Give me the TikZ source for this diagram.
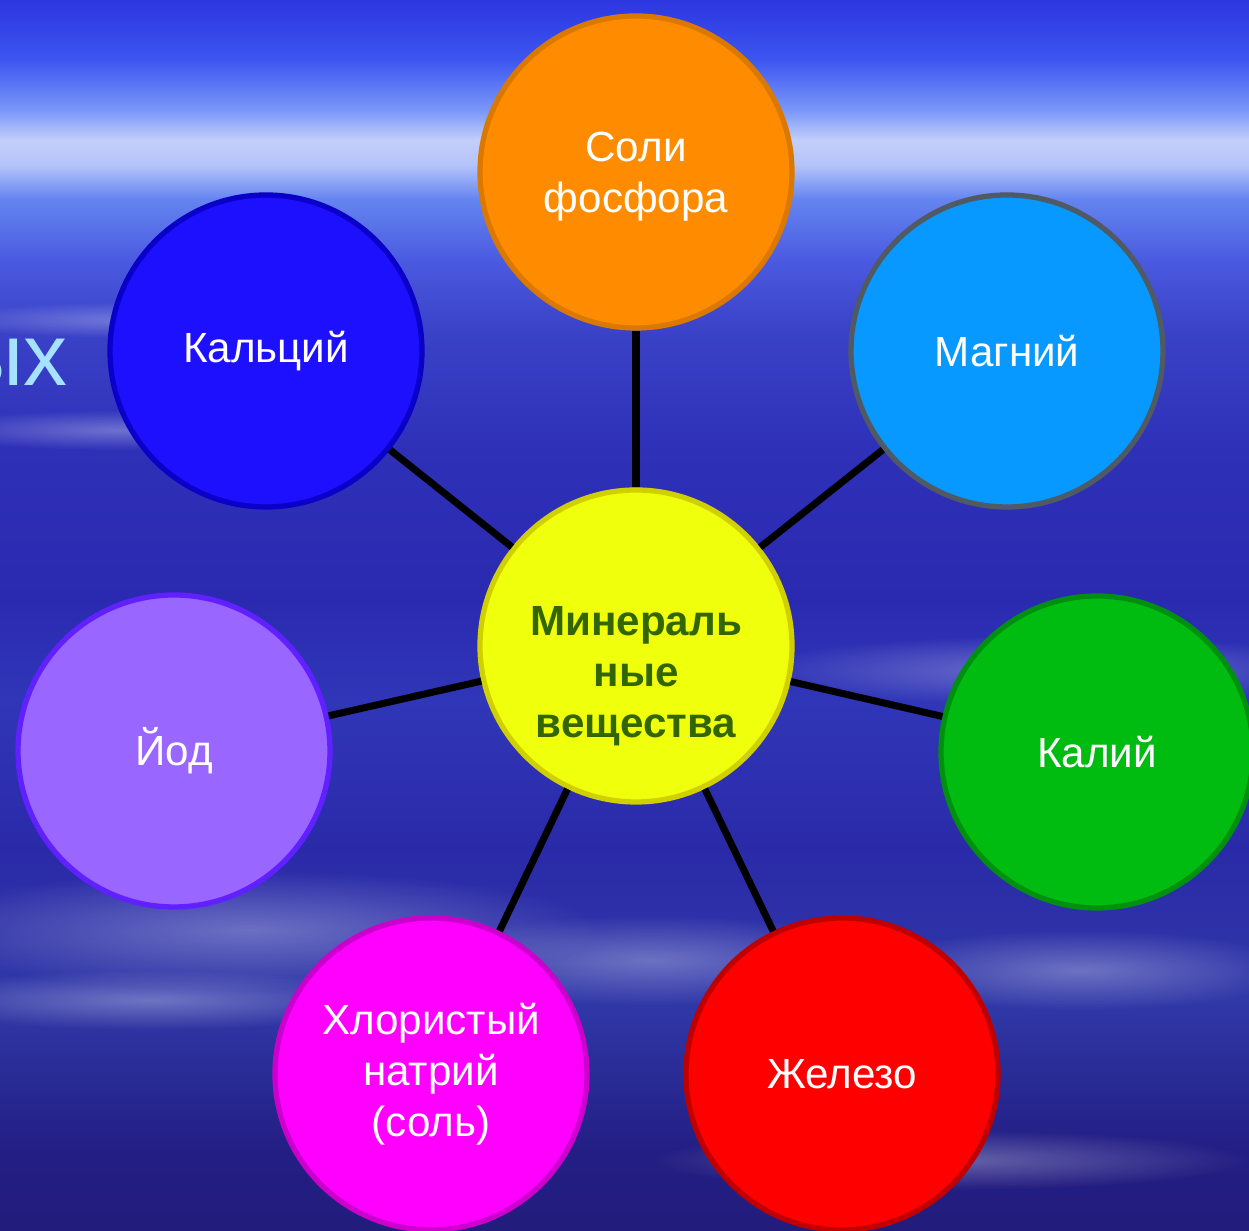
\documentclass[tikz,border=0pt]{standalone}
\usepackage{fontspec}
\setmainfont{Liberation Sans}
\usetikzlibrary{fadings}

\definecolor{titlecyan}{HTML}{A6E2FF}
\definecolor{hubgreen}{HTML}{336600}

% soft edged blob for the clouds
\tikzfading[name=softfade,inner color=transparent!0,outer color=transparent!100]

% sky behind the diagram, light band near the top
\pgfdeclareverticalshading{sky}{100bp}{%
  rgb(0bp)=(0.133,0.110,0.486); rgb(25bp)=(0.133,0.110,0.486);
  rgb(28.3bp)=(0.137,0.118,0.518); rgb(34.4bp)=(0.188,0.22,0.659);
  rgb(40.5bp)=(0.165,0.165,0.659); rgb(46.6bp)=(0.188,0.212,0.722);
  rgb(50.6bp)=(0.165,0.165,0.69); rgb(56.7bp)=(0.18,0.188,0.722);
  rgb(61.6bp)=(0.227,0.259,0.784); rgb(64.4bp)=(0.29,0.353,0.878);
  rgb(66.9bp)=(0.392,0.518,0.941); rgb(68.3bp)=(0.706,0.769,0.98);
  rgb(69.3bp)=(0.769,0.808,0.98); rgb(70.5bp)=(0.478,0.596,0.973);
  rgb(72.6bp)=(0.235,0.333,0.941); rgb(75bp)=(0.176,0.212,0.878);
  rgb(100bp)=(0.176,0.212,0.878)}

\begin{document}
\begin{tikzpicture}[
        ball/.style={circle,minimum size=3.12cm,inner sep=0pt,
            line width=1.5pt,align=center,text=white,
            font=\fontsize{12}{14.5}\selectfont},
        cloud/.style={white,opacity=0.3,path fading=softfade},
        link/.style={line width=2pt,black}]
\useasboundingbox (0,0) rectangle (12.49,-12.31);
\clip (0,0) rectangle (12.49,-12.31);
\shade[shading=sky] (0,0) rectangle (12.49,-12.31);

% streaks of cloud
\fill[cloud] (1.5,-3.2) ellipse (2.2 and 0.18);
\fill[cloud] (1.2,-4.3) ellipse (2.0 and 0.2);
\fill[cloud] (10.5,-6.7) ellipse (3.0 and 0.35);
\fill[cloud] (2.5,-9.3) ellipse (3.5 and 0.6);
\fill[cloud] (1.5,-10.0) ellipse (2.5 and 0.3);
\fill[cloud] (6.5,-9.6) ellipse (2.5 and 0.45);
\fill[cloud] (10.8,-9.7) ellipse (2.2 and 0.4);
\fill[cloud] (9.5,-11.6) ellipse (3.0 and 0.3);

\node[anchor=base east,inner sep=0pt,text=titlecyan,
    font=\fontsize{25}{28}\selectfont] (title) at (0.68,-3.86) {ых};

\node[ball,fill={rgb,255:red,240;green,255;blue,12},
    draw={rgb,255:red,208;green,208;blue,0}] (min) at (6.36,-6.46) {};
\node[align=center,text=hubgreen,font=\fontsize{12}{14.5}\selectfont\bfseries]
    (mintext) at (6.36,-6.76) {Минераль\\ные\\вещества};

\node[ball,fill={rgb,255:red,255;green,140;blue,0},
    draw={rgb,255:red,218;green,120;blue,0}] (phos) at (6.36,-1.72) {};
\node[align=center,text=white,font=\fontsize{12}{14.5}\selectfont]
    (phostext) at (6.36,-1.77) {Соли\\фосфора};
\node[ball,fill={rgb,255:red,28;green,16;blue,255},
    draw={rgb,255:red,10;green,0;blue,200}] (calc) at (2.66,-3.51) {Кальций};
\node[ball,fill={rgb,255:red,7;green,153;blue,255},
    draw={rgb,255:red,80;green,90;blue,100}] (magn) at (10.07,-3.51) {Магний};
\node[ball,fill={rgb,255:red,153;green,102;blue,255},
    draw={rgb,255:red,96;green,32;blue,255}] (iod) at (1.74,-7.51) {Йод};
\node[ball,fill={rgb,255:red,0;green,187;blue,16},
    draw={rgb,255:red,0;green,144;blue,16}] (kal) at (10.97,-7.52) {Калий};
\node[ball,fill={rgb,255:red,255;green,0;blue,255},
    draw={rgb,255:red,204;green,0;blue,204}] (chlor) at (4.31,-10.74)
    {Хлористый\\натрий\\(соль)};
\node[ball,fill={rgb,255:red,255;green,0;blue,0},
    draw={rgb,255:red,192;green,0;blue,0}] (iron) at (8.42,-10.74) {Железо};

\foreach \n in {phos,calc,magn,iod,kal,chlor,iron}
    \draw[link] (min) -- (\n);

\end{tikzpicture}
\end{document}
